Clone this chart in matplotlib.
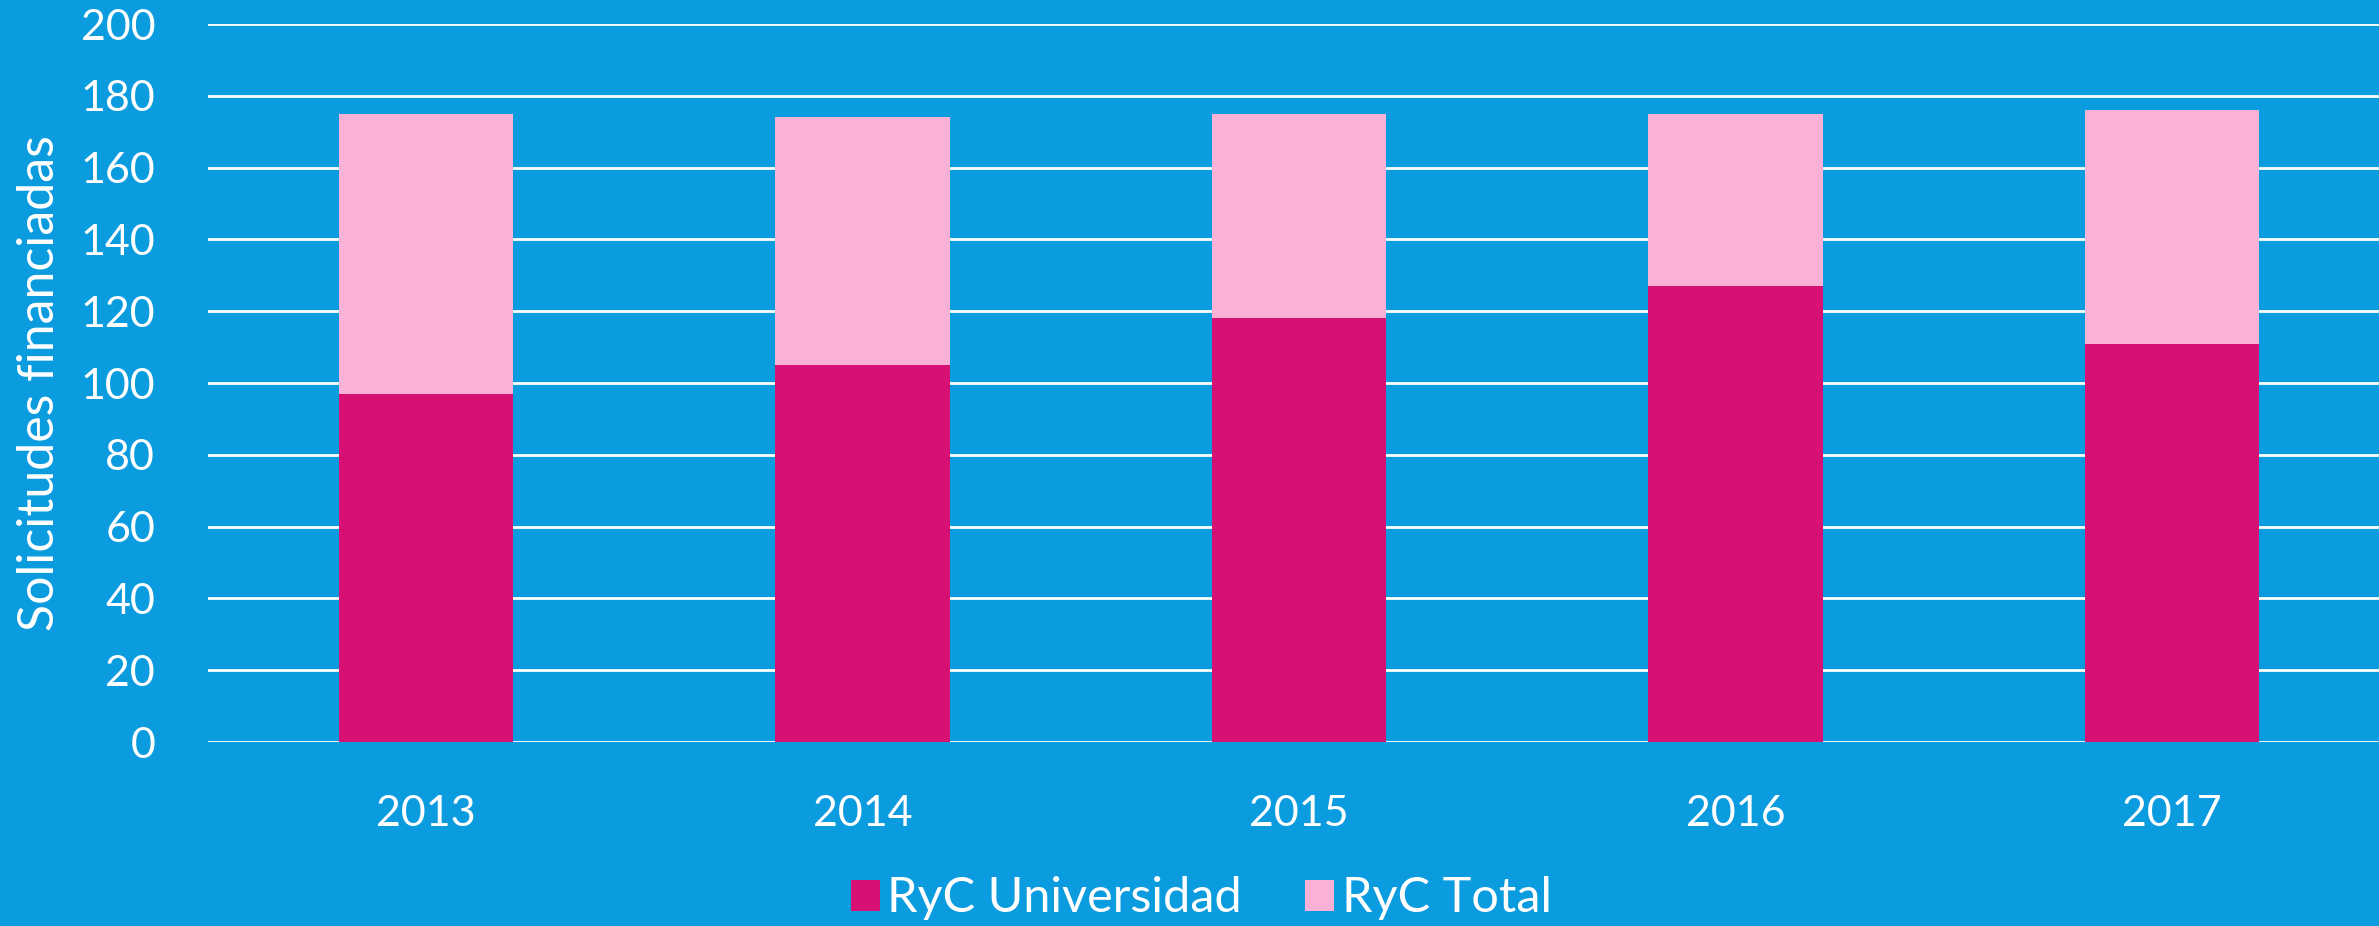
import matplotlib.pyplot as plt
import numpy as np

# datos
anios = ["2013", "2014", "2015", "2016", "2017"]
ryc_universidad = [97, 105, 118, 127, 111]
ryc_total = [175, 174, 175, 175, 176]

fondo = "#0B9BDF"
magenta = "#D61173"
rosa = "#F9B2D6"

plt.rcParams['font.family'] = ['Lato', 'DejaVu Sans']

fig = plt.figure(figsize=(23.79, 9.26), dpi=100, facecolor=fondo)
ax = fig.add_axes([0.0874, 0.1987, 0.9174, 0.7753])
ax.set_facecolor(fondo)

x = np.arange(len(anios))
ax.bar(x, ryc_total, width=0.4, color=rosa, zorder=2, label="RyC Total")
ax.bar(x, ryc_universidad, width=0.4, color=magenta, zorder=3, label="RyC Universidad")

ax.set_xlim(-0.5, 4.5)
ax.set_ylim(0, 200)
ax.set_yticks(np.arange(0, 201, 20))
ax.set_xticks(x)
ax.set_xticklabels(anios)
ax.grid(axis="y", color="white", linewidth=2, zorder=1)
ax.tick_params(length=0, colors="white", labelsize=31)
ax.tick_params(axis="x", pad=38)
ax.tick_params(axis="y", pad=38)
for s in ax.spines.values():
    s.set_visible(False)

ax.set_ylabel("Solicitudes financiadas", color="white", fontsize=36)
ax.yaxis.label.set_va("center")
ax.yaxis.set_label_coords(-0.077, 0.5)

h, l = ax.get_legend_handles_labels()
leg = fig.legend(h[::-1], l[::-1], loc="center", bbox_to_anchor=(0.505, 0.03), ncol=2,
                 frameon=False, fontsize=35, handlelength=0.6, handleheight=0.6,
                 handletextpad=0.15, columnspacing=1.3)
for t in leg.get_texts():
    t.set_color("white")

fig.savefig("out.png", dpi=100, facecolor=fondo)
